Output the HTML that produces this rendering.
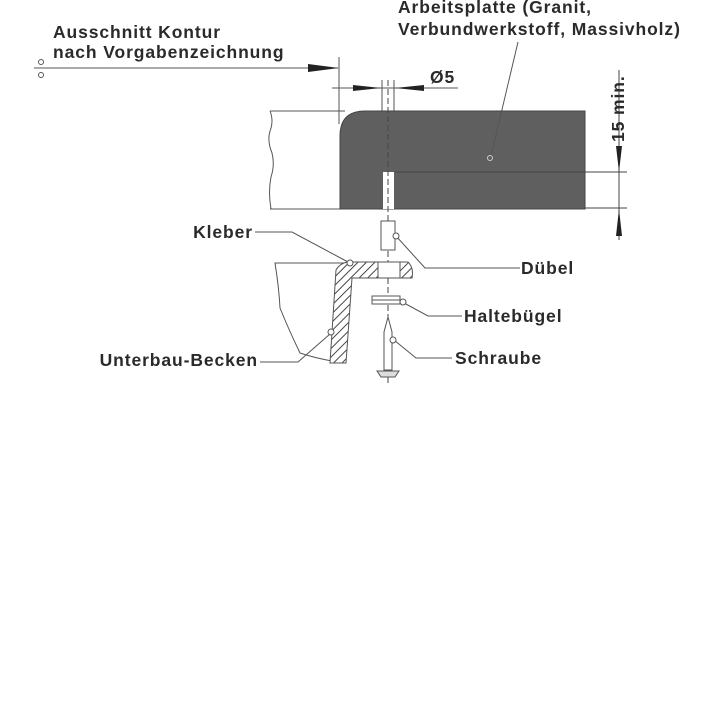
<!DOCTYPE html>
<html><head><meta charset="utf-8"><style>
html,body{margin:0;padding:0;background:#fff;}
svg{display:block;}
text{font-family:"Liberation Sans",Arial,sans-serif;font-weight:bold;fill:#2a2a2a;font-size:17.5px;letter-spacing:0.9px;}
</style></head><body>
<svg width="720" height="720" viewBox="0 0 720 720" xmlns="http://www.w3.org/2000/svg">
<defs>
<pattern id="h" width="6" height="6" patternUnits="userSpaceOnUse" patternTransform="rotate(45)">
<rect width="6" height="6" fill="#fff"/><line x1="0" y1="0" x2="0" y2="6" stroke="#444" stroke-width="2"/>
</pattern>
</defs>
<g stroke="#555" stroke-width="1" fill="none">
<line x1="34" y1="68" x2="338" y2="68"/>
<line x1="339" y1="57" x2="339" y2="124"/>
<circle cx="41" cy="62" r="2.5"/><circle cx="41" cy="75" r="2.5"/>
<line x1="332" y1="88" x2="458" y2="88"/>
<line x1="382" y1="80" x2="382" y2="170"/>
<line x1="394" y1="80" x2="394" y2="170"/>
<path d="M270 111 H345 M270 209 H340 M270 111 q4 10 0 20 q-3 10 2 22 q3 12 -1 24 q-3 15 0 32"/>
</g>
<path d="M340 209 V136 Q340 111 365 111 H585 V209 Z" fill="#5f5f5f" stroke="#444"/>
<rect x="383" y="172" width="11" height="37" fill="#fff"/>
<g stroke="#444" stroke-width="1" fill="none">
<line x1="395" y1="172" x2="627" y2="172"/>
<line x1="585" y1="208" x2="627" y2="208"/>
<line x1="619" y1="70" x2="619" y2="240"/>
<line x1="388" y1="80" x2="388" y2="385" stroke-dasharray="6,3"/>
<line x1="518" y1="42" x2="491" y2="156" stroke="#555"/>
</g>
<circle cx="490" cy="158" r="2.5" fill="none" stroke="#ccc"/>
<g fill="#222">
<polygon points="339,68 308,64 308,72"/>
<polygon points="381,88 353,85 353,91"/>
<polygon points="395,88 424,85 424,91"/>
<polygon points="619,172 616,146 622,146"/>
<polygon points="619,209 616,236 622,236"/>
</g>
<g stroke="#555" fill="#fff" stroke-width="1">
<rect x="381" y="221" width="14" height="29"/>
<polyline points="396,236 425,268 520,268" fill="none"/>
<circle cx="396" cy="236" r="3"/>
<polyline points="255,232 292,232 348,262" fill="none"/>
<path d="M345 263 H275 q4 25 5 45 q8 20 20 45 q15 5 32 8" fill="none"/>
<path d="M348 262 Q340 263 336 270 L330 363 H346 L352 278 H378 V262 Z" fill="url(#h)"/>
<path d="M378 262 H400 V278 H378 Z" fill="#fff"/>
<path d="M400 262 H408 Q414 268 412 278 H400 Z" fill="url(#h)"/>
<circle cx="350" cy="263" r="3"/>
<polyline points="260,362 298,362 330,334" fill="none"/>
<circle cx="331" cy="332" r="3"/>
<rect x="372" y="296" width="28" height="8"/>
<line x1="372" y1="300" x2="400" y2="300"/>
<polyline points="404,303 428,316 462,316" fill="none"/>
<circle cx="403" cy="302" r="3"/>
<path d="M388 317 L392 332 V370 H384 V332 Z"/>
<path d="M377 371 H399 L395 377 H381 Z" fill="#ddd"/>
<polyline points="394,340 416,358 452,358" fill="none"/>
<circle cx="393" cy="340" r="3"/>
</g>
<text x="53" y="38">Ausschnitt Kontur</text>
<text x="53" y="58">nach Vorgabenzeichnung</text>
<text x="398" y="13">Arbeitsplatte (Granit,</text>
<text x="398" y="35">Verbundwerkstoff, Massivholz)</text>
<text x="430" y="83">Ø5</text>
<text transform="translate(624,142) rotate(-90)">15 min.</text>
<text x="253" y="238" text-anchor="end">Kleber</text>
<text x="521" y="274">Dübel</text>
<text x="464" y="322">Haltebügel</text>
<text x="455" y="364">Schraube</text>
<text x="258" y="366" text-anchor="end">Unterbau-Becken</text>
</svg>
</body></html>
